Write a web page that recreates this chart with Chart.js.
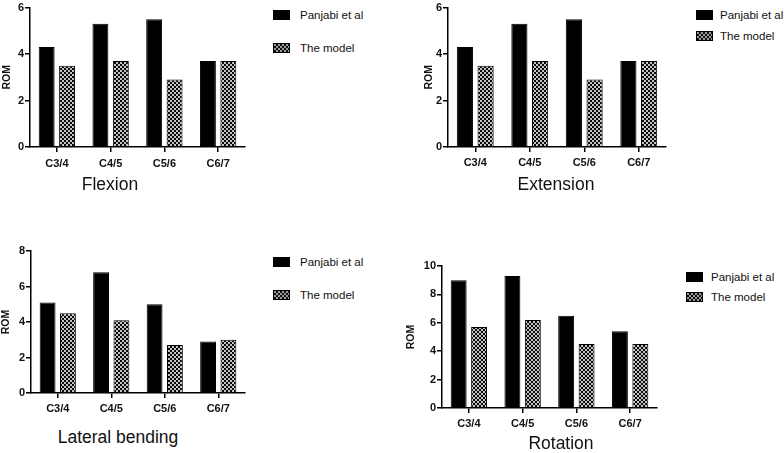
<!DOCTYPE html>
<html>
<head>
<meta charset="utf-8">
<script src="https://cdn.jsdelivr.net/npm/chart.js@4"></script>
<style>
  body { margin: 0; background: #fff; font-family: 'Liberation Sans', Arial, sans-serif; }
  #wrap { position: relative; width: 784px; height: 453px; overflow: hidden; }
  canvas { position: absolute; }
  .title { position: absolute; font-size: 17.5px; color: #111; white-space: nowrap; transform: translate(-50%, -50%); }
  .sw { position: absolute; width: 17px; height: 10px; box-sizing: border-box; border: 1px solid #000; }
  .sw.solid { background: #000; }
  .sw.check { background: repeating-conic-gradient(#111 0 25%, #9a9a9a 0 50%) 0 0 / 4px 4px; }
  .lt { position: absolute; font-size: 11.5px; color: #111; white-space: nowrap; transform: translateY(-50%); }
</style>
</head>
<body>
<div id="wrap">
  <canvas id="c1" width="262" height="178" style="left:0;top:0"></canvas>
  <canvas id="c2" width="262" height="178" style="left:418px;top:0"></canvas>
  <canvas id="c3" width="262" height="180" style="left:0;top:240px"></canvas>
  <canvas id="c4" width="267" height="180" style="left:405px;top:255px"></canvas>

  <div class="title" style="left:110px;top:184px">Flexion</div>
  <div class="title" style="left:556px;top:184px">Extension</div>
  <div class="title" style="left:118px;top:437px">Lateral bending</div>
  <div class="title" style="left:561px;top:443px">Rotation</div>

  <div class="sw solid" style="left:273px;top:10px"></div>
  <div class="lt" style="left:300px;top:15px">Panjabi et al</div>
  <div class="sw check" style="left:273px;top:43px"></div>
  <div class="lt" style="left:300px;top:48px">The model</div>

  <div class="sw solid" style="left:696px;top:10px"></div>
  <div class="lt" style="left:720px;top:15px">Panjabi et al</div>
  <div class="sw check" style="left:696px;top:31px"></div>
  <div class="lt" style="left:720px;top:36px">The model</div>

  <div class="sw solid" style="left:273px;top:257px"></div>
  <div class="lt" style="left:300px;top:262px">Panjabi et al</div>
  <div class="sw check" style="left:273px;top:290px"></div>
  <div class="lt" style="left:300px;top:295px">The model</div>

  <div class="sw solid" style="left:686px;top:272px"></div>
  <div class="lt" style="left:711px;top:277px">Panjabi et al</div>
  <div class="sw check" style="left:686px;top:292px"></div>
  <div class="lt" style="left:711px;top:297px">The model</div>
</div>
<script>
// levels along the cervical spine
var categories = ['C3/4', 'C4/5', 'C5/6', 'C6/7'];
var seriesNames = ['Panjabi et al', 'The model'];

var flexionPanjabi = [4.3, 5.3, 5.5, 3.7];
var flexionModel = [3.5, 3.7, 2.9, 3.7];

var extensionPanjabi = [4.3, 5.3, 5.5, 3.7];
var extensionModel = [3.5, 3.7, 2.9, 3.7];

var lateralPanjabi = [5.1, 6.8, 5.0, 2.9];
var lateralModel = [4.5, 4.1, 2.7, 3.0];

var rotationPanjabi = [9.0, 9.3, 6.5, 5.4];
var rotationModel = [5.7, 6.2, 4.5, 4.5];

// checkered fill for the model bars
function checker() {
    var c = document.createElement('canvas');
    c.width = 4; c.height = 4;
    var g = c.getContext('2d');
    g.fillStyle = '#c4c4c4';
    g.fillRect(0, 0, 4, 4);
    g.fillStyle = '#0a0a0a';
    g.fillRect(0, 0, 2, 2);
    g.fillRect(2, 2, 2, 2);
    return g.createPattern(c, 'repeat');
}

var tickFont = { family: "'Liberation Sans', Arial, sans-serif", size: 11, weight: 'bold' };

function makePanel(id, a, b, yMax, box) {
    var ctx = document.getElementById(id).getContext('2d');
    return new Chart(ctx, {
        type: 'bar',
        data: {
            labels: categories,
            datasets: [{
                label: seriesNames[0],
                data: a,
                backgroundColor: '#000',
                borderColor: '#000',
                borderWidth: 1
            }, {
                label: seriesNames[1],
                data: b,
                backgroundColor: checker(),
                borderColor: '#000',
                borderWidth: 1
            }]
        },
        options: {
            responsive: false,
            animation: false,
            categoryPercentage: 0.76,
            barPercentage: 0.78,
            layout: { padding: { left: 0, top: box.top, right: box.right, bottom: 0 } },
            plugins: { legend: { display: false }, tooltip: { enabled: false } },
            scales: {
                x: {
                    afterFit: function (s) { s.height = box.xh; },
                    grid: { drawOnChartArea: false, offset: false, tickLength: 5, color: '#000', lineWidth: 1.5 },
                    border: { color: '#000', width: 1.5 },
                    ticks: { color: '#111', font: tickFont, padding: box.xp, maxRotation: 0 }
                },
                y: {
                    min: 0,
                    max: yMax,
                    afterFit: function (s) { s.width = box.yw; },
                    grid: { drawOnChartArea: false, tickLength: 5, color: '#000', lineWidth: 1.5 },
                    border: { color: '#000', width: 1.5 },
                    ticks: { stepSize: 2, color: '#111', font: tickFont, padding: 1 },
                    title: {
                        display: true,
                        text: 'ROM',
                        color: '#111',
                        font: { family: "'Liberation Sans', Arial, sans-serif", size: 10.5, weight: 'bold' },
                        padding: { top: box.tp, bottom: 0 }
                    }
                }
            }
        }
    });
}

makePanel('c1', flexionPanjabi, flexionModel, 6, { top: 6, right: 17, xh: 31, yw: 30, tp: 1, xp: 5 });
makePanel('c2', extensionPanjabi, extensionModel, 6, { top: 6, right: 14, xh: 31, yw: 30, tp: 5, xp: 4 });
makePanel('c3', lateralPanjabi, lateralModel, 8, { top: 11, right: 17, xh: 27, yw: 31, tp: 0, xp: 4 });
makePanel('c4', rotationPanjabi, rotationModel, 10, { top: 11, right: 15, xh: 27, yw: 37, tp: 0, xp: 4 });
</script>
</body>
</html>
